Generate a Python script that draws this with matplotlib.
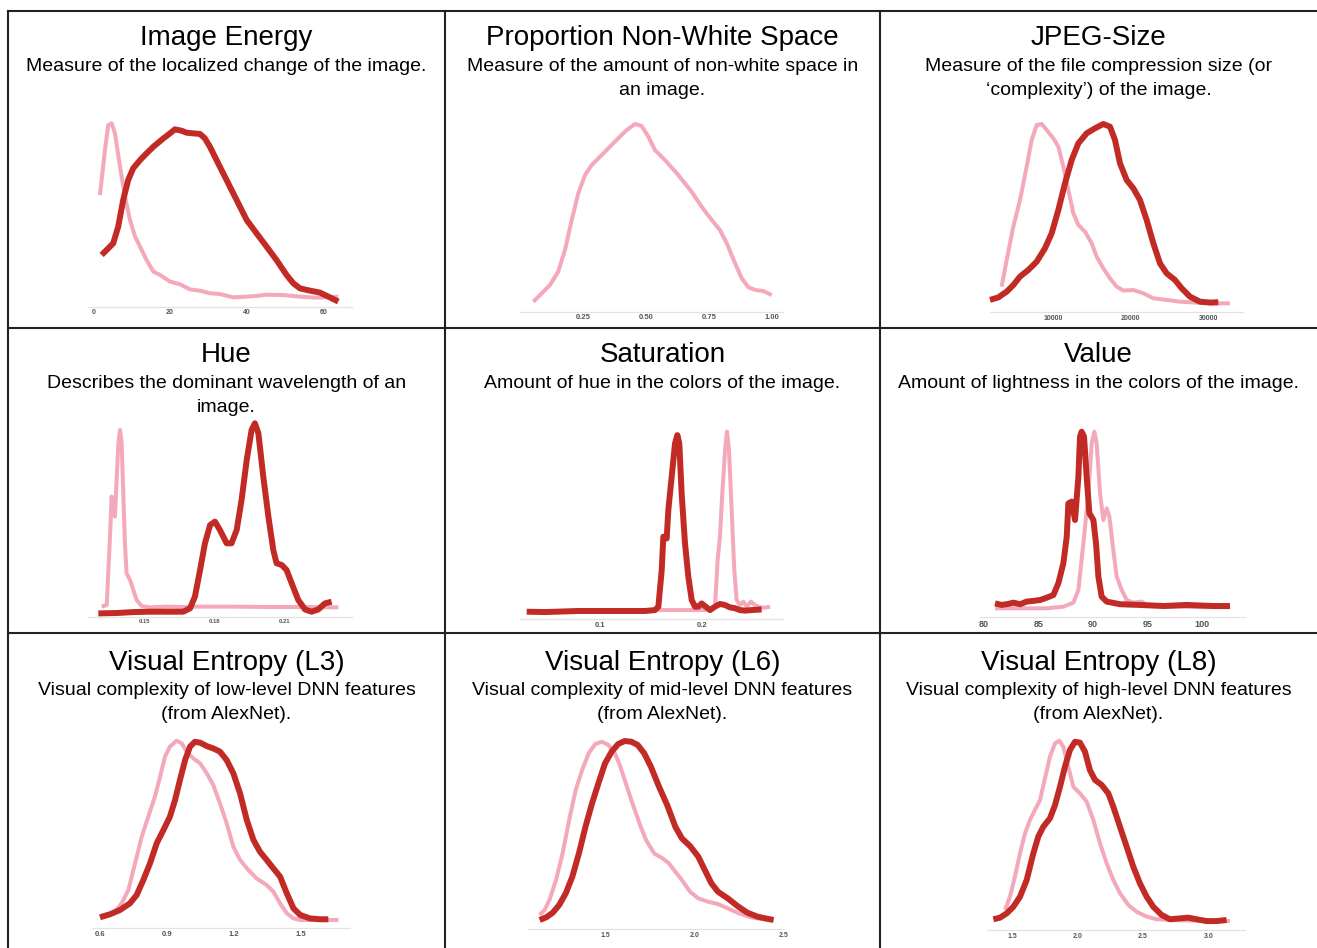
import matplotlib
matplotlib.use("Agg")
import matplotlib.pyplot as plt
from matplotlib.lines import Line2D

plt.rcParams['font.family'] = ['Liberation Sans', 'DejaVu Sans']

W, H = 1317, 948
LIGHT = '#f4a9bb'
DARK = '#c22a26'

# ---------------- data (density curves, relative height, peak = 1) ----------------
titles = ["Image Energy", "Proportion Non-White Space", "JPEG-Size",
          "Hue", "Saturation", "Value",
          "Visual Entropy (L3)", "Visual Entropy (L6)", "Visual Entropy (L8)"]
subtitles = ["Measure of the localized change of the image.",
             "Measure of the amount of non-white space in\nan image.",
             "Measure of the file compression size (or\n\u2018complexity\u2019) of the image.",
             "Describes the dominant wavelength of an\nimage.",
             "Amount of hue in the colors of the image.",
             "Amount of lightness in the colors of the image.",
             "Visual complexity of low-level DNN features\n(from AlexNet).",
             "Visual complexity of mid-level DNN features\n(from AlexNet).",
             "Visual complexity of high-level DNN features\n(from AlexNet)."]

# Image Energy
energy_light_x = [1.74, 3.04, 3.9, 4.8, 5.65, 6.96, 8.26, 9.57, 10.9, 12.2, 13.9, 15.7, 17.4, 20, 22.6, 25.2,
                  27.8, 30.4, 33, 36.5, 40, 42.6, 45.2, 49.6, 53.9, 58.3, 63.9]
energy_light_y = [0.594, 0.849, 0.99, 1.0, 0.943, 0.755, 0.585, 0.453, 0.358, 0.302, 0.226, 0.160, 0.142, 0.104,
                  0.089, 0.060, 0.053, 0.038, 0.034, 0.015, 0.019, 0.023, 0.030, 0.028, 0.019, 0.013, 0.019]
energy_dark_x = [2.17, 3.48, 5.2, 6.5, 7.8, 9.1, 10.4, 12.2, 13.9, 15.7, 18.3, 20, 21.3, 23.0, 24.3, 26.1, 27.8,
                 29.1, 30.4, 33.0, 36.5, 40, 42.6, 45.2, 47.8, 50.4, 52.2, 53.9, 56.5, 59.1, 61.7, 63.9]
energy_dark_y = [0.255, 0.283, 0.321, 0.415, 0.566, 0.679, 0.745, 0.792, 0.830, 0.868, 0.915, 0.943, 0.966, 0.958,
                 0.947, 0.943, 0.940, 0.915, 0.868, 0.755, 0.604, 0.453, 0.377, 0.302, 0.226, 0.142, 0.094, 0.066,
                 0.053, 0.042, 0.015, -0.009]

# Proportion Non-White Space
nonwhite_x = [0.051, 0.084, 0.117, 0.150, 0.177, 0.204, 0.230, 0.257, 0.283, 0.310, 0.350, 0.389, 0.423, 0.456,
              0.482, 0.509, 0.535, 0.575, 0.628, 0.681, 0.721, 0.761, 0.794, 0.821, 0.854, 0.881, 0.907, 0.934,
              0.967, 1.000]
nonwhite_y = [0.018, 0.064, 0.110, 0.184, 0.304, 0.470, 0.617, 0.718, 0.773, 0.810, 0.866, 0.921, 0.967, 1.0,
              0.989, 0.930, 0.856, 0.801, 0.718, 0.626, 0.543, 0.470, 0.414, 0.341, 0.230, 0.147, 0.098, 0.083,
              0.077, 0.055]

# JPEG-Size
jpeg_light_x = [3333, 3979, 4839, 5699, 6559, 7204, 7849, 8495, 9140, 10000, 10645, 11290, 11935, 12581, 13226,
                14086, 14946, 15591, 16452, 17312, 18172, 19032, 20323, 21613, 22903, 24623, 26344, 28494, 30645,
                32795]
jpeg_light_y = [0.093, 0.242, 0.428, 0.576, 0.762, 0.911, 0.994, 1.0, 0.967, 0.920, 0.874, 0.762, 0.632, 0.502,
                0.437, 0.400, 0.335, 0.260, 0.195, 0.139, 0.093, 0.071, 0.074, 0.056, 0.028, 0.019, 0.009, 0.004,
                0.0, 0.0]
jpeg_dark_x = [1828, 2903, 3979, 4839, 5699, 6774, 7849, 8925, 9785, 10645, 11505, 12366, 13226, 14301, 15376,
               16452, 17312, 17957, 18602, 19462, 20323, 21183, 22043, 22903, 23763, 24624, 25699, 26559, 27634,
               28925, 30215, 31290]
jpeg_dark_y = [0.019, 0.033, 0.065, 0.102, 0.149, 0.186, 0.232, 0.307, 0.390, 0.520, 0.669, 0.799, 0.892, 0.948,
               0.976, 1.0, 0.985, 0.911, 0.781, 0.688, 0.641, 0.576, 0.465, 0.335, 0.223, 0.167, 0.130, 0.084,
               0.037, 0.009, 0.004, 0.006]

# Hue
hue_light_x = [0.1314, 0.1336, 0.1350, 0.1357, 0.1364, 0.1371, 0.1379, 0.1386, 0.1393, 0.1400, 0.1407, 0.1414,
               0.1421, 0.1436, 0.1450, 0.1464, 0.1486, 0.1521, 0.1593, 0.1664, 0.1736, 0.1879, 0.2021, 0.2164,
               0.2329]
hue_light_y = [0.027, 0.035, 0.398, 0.611, 0.540, 0.504, 0.717, 0.894, 0.965, 0.894, 0.628, 0.363, 0.204, 0.168,
               0.115, 0.062, 0.030, 0.023, 0.027, 0.025, 0.027, 0.027, 0.025, 0.025, 0.023]
hue_dark_x = [0.1300, 0.1379, 0.1450, 0.1521, 0.1593, 0.1664, 0.1693, 0.1714, 0.1736, 0.1757, 0.1779, 0.1800,
              0.1821, 0.1850, 0.1871, 0.1893, 0.1914, 0.1936, 0.1957, 0.1971, 0.1986, 0.2007, 0.2029, 0.2050,
              0.2064, 0.2086, 0.2107, 0.2129, 0.2157, 0.2186, 0.2214, 0.2243, 0.2271, 0.2300]
hue_dark_y = [-0.009, -0.007, -0.002, 0.0, 0.0, 0.0, 0.018, 0.080, 0.221, 0.363, 0.460, 0.478, 0.434, 0.363,
              0.363, 0.434, 0.593, 0.805, 0.965, 1.0, 0.947, 0.717, 0.504, 0.327, 0.257, 0.248, 0.221, 0.150,
              0.062, 0.012, 0.0, 0.012, 0.044, 0.053]

# Saturation
sat_dark_x = [0.0279, 0.0459, 0.0787, 0.1115, 0.1443, 0.1541, 0.1574, 0.1607, 0.1623, 0.1656, 0.1672, 0.1705,
              0.1738, 0.1761, 0.1780, 0.1803, 0.1836, 0.1869, 0.1902, 0.1934, 0.1967, 0.2000, 0.2033, 0.2082,
              0.2131, 0.2180, 0.2230, 0.2279, 0.2328, 0.2377, 0.2426, 0.2492, 0.2590]
sat_dark_y = [0.0, -0.002, 0.004, 0.004, 0.004, 0.009, 0.028, 0.231, 0.417, 0.407, 0.565, 0.750, 0.935, 0.981,
              0.935, 0.657, 0.380, 0.194, 0.065, 0.028, 0.028, 0.046, 0.031, 0.009, 0.028, 0.043, 0.037, 0.024,
              0.019, 0.009, 0.006, 0.009, 0.013]
sat_light_x = [0.1574, 0.1770, 0.1967, 0.2098, 0.2131, 0.2157, 0.2180, 0.2203, 0.2230, 0.2249, 0.2269, 0.2295,
               0.2321, 0.2344, 0.2377, 0.2410, 0.2443, 0.2485, 0.2525, 0.2574, 0.2623, 0.2672]
sat_light_y = [0.009, 0.009, 0.009, 0.013, 0.028, 0.287, 0.417, 0.657, 0.898, 1.0, 0.898, 0.565, 0.231, 0.065,
               0.037, 0.056, 0.028, 0.056, 0.037, 0.024, 0.022, 0.028]

# Value
val_dark_x = [81.01, 81.62, 82.24, 82.70, 83.31, 83.92, 84.53, 85.15, 85.76, 86.37, 86.83, 87.29, 87.60, 87.75,
              88.06, 88.36, 88.67, 88.82, 88.97, 89.19, 89.43, 89.68, 90.05, 90.29, 90.51, 90.81, 91.27, 92.50,
              94.33, 96.48, 98.62, 101.07, 102.60]
val_dark_y = [0.028, 0.019, 0.025, 0.032, 0.023, 0.038, 0.042, 0.047, 0.060, 0.075, 0.142, 0.255, 0.406, 0.594,
              0.604, 0.500, 0.745, 0.972, 1.0, 0.972, 0.745, 0.538, 0.500, 0.368, 0.179, 0.066, 0.038, 0.023,
              0.019, 0.013, 0.019, 0.013, 0.013]
val_light_x = [81.01, 82.70, 84.23, 85.76, 87.29, 88.21, 88.67, 89.13, 89.59, 89.89, 90.14, 90.35, 90.66, 90.96,
               91.27, 91.52, 91.88, 92.19, 92.65, 93.11, 93.72, 94.49, 94.95, 96.48, 98.01, 101.07, 102.60]
val_light_y = [0.0, 0.0, 0.0, 0.0, 0.009, 0.032, 0.104, 0.368, 0.651, 0.934, 1.0, 0.934, 0.651, 0.500, 0.566,
               0.519, 0.330, 0.179, 0.104, 0.047, 0.032, 0.038, 0.019, 0.009, 0.009, 0.006, 0.006]

# Visual Entropy (L3)
l3_light_x = [0.660, 0.697, 0.727, 0.757, 0.787, 0.816, 0.846, 0.869, 0.891, 0.913, 0.943, 0.966, 0.988, 1.018,
              1.048, 1.078, 1.107, 1.137, 1.167, 1.197, 1.227, 1.264, 1.301, 1.346, 1.376, 1.406, 1.436, 1.466,
              1.496, 1.570, 1.667]
l3_light_y = [0.037, 0.093, 0.167, 0.316, 0.465, 0.576, 0.688, 0.799, 0.911, 0.967, 1.0, 0.985, 0.939, 0.901,
              0.874, 0.818, 0.753, 0.651, 0.539, 0.409, 0.335, 0.279, 0.232, 0.195, 0.158, 0.093, 0.037, 0.009,
              0.0, 0.0, 0.0]
l3_dark_x = [0.600, 0.645, 0.690, 0.734, 0.764, 0.794, 0.824, 0.854, 0.884, 0.913, 0.936, 0.958, 0.981, 1.003,
             1.025, 1.048, 1.078, 1.107, 1.137, 1.167, 1.197, 1.227, 1.257, 1.287, 1.316, 1.346, 1.376, 1.406,
             1.436, 1.466, 1.496, 1.540, 1.585, 1.622]
l3_dark_y = [0.015, 0.032, 0.056, 0.093, 0.139, 0.223, 0.316, 0.428, 0.502, 0.576, 0.669, 0.781, 0.892, 0.967,
             0.994, 0.989, 0.970, 0.957, 0.939, 0.892, 0.818, 0.706, 0.558, 0.446, 0.381, 0.335, 0.288, 0.242,
             0.149, 0.065, 0.028, 0.009, 0.004, 0.004]

# Visual Entropy (L6)
l6_light_x = [1.128, 1.156, 1.183, 1.220, 1.257, 1.294, 1.331, 1.367, 1.404, 1.441, 1.478, 1.515, 1.552, 1.579,
              1.607, 1.644, 1.690, 1.727, 1.773, 1.819, 1.855, 1.892, 1.929, 1.975, 2.021, 2.076, 2.132, 2.187,
              2.251, 2.316, 2.389, 2.445]
l6_light_y = [0.028, 0.056, 0.112, 0.223, 0.372, 0.559, 0.726, 0.838, 0.931, 0.983, 0.996, 0.978, 0.931, 0.866,
              0.782, 0.670, 0.540, 0.447, 0.372, 0.345, 0.317, 0.270, 0.223, 0.158, 0.121, 0.102, 0.089, 0.065,
              0.037, 0.015, 0.004, 0.0]
l6_dark_x = [1.128, 1.165, 1.202, 1.238, 1.275, 1.312, 1.349, 1.386, 1.423, 1.459, 1.496, 1.533, 1.570, 1.607,
             1.644, 1.680, 1.717, 1.754, 1.800, 1.846, 1.892, 1.929, 1.975, 2.021, 2.058, 2.095, 2.132, 2.187,
             2.242, 2.297, 2.353, 2.399, 2.445]
l6_dark_y = [0.0, 0.015, 0.041, 0.084, 0.149, 0.242, 0.372, 0.521, 0.652, 0.764, 0.875, 0.940, 0.983, 1.0, 0.996,
             0.978, 0.931, 0.857, 0.745, 0.642, 0.521, 0.456, 0.413, 0.354, 0.279, 0.205, 0.158, 0.121, 0.078,
             0.041, 0.019, 0.009, 0.0]

# Visual Entropy (L8)
l8_light_x = [1.444, 1.482, 1.520, 1.559, 1.597, 1.635, 1.673, 1.712, 1.750, 1.788, 1.827, 1.860, 1.890, 1.929,
              1.967, 2.018, 2.069, 2.120, 2.171, 2.222, 2.273, 2.324, 2.388, 2.452, 2.528, 2.605, 2.707, 2.911,
              3.166]
l8_light_y = [0.056, 0.130, 0.242, 0.372, 0.483, 0.558, 0.613, 0.669, 0.790, 0.911, 0.985, 1.0, 0.967, 0.855,
              0.743, 0.706, 0.660, 0.558, 0.428, 0.316, 0.223, 0.149, 0.084, 0.046, 0.019, 0.004, 0.0, -0.004,
              -0.006]
l8_dark_x = [1.355, 1.406, 1.457, 1.508, 1.559, 1.610, 1.661, 1.699, 1.737, 1.788, 1.827, 1.865, 1.903, 1.941,
             1.980, 2.018, 2.056, 2.094, 2.133, 2.184, 2.235, 2.273, 2.324, 2.375, 2.426, 2.477, 2.528, 2.579,
             2.643, 2.707, 2.783, 2.847, 2.911, 2.987, 3.064, 3.140]
l8_dark_y = [0.004, 0.013, 0.037, 0.074, 0.130, 0.223, 0.372, 0.465, 0.520, 0.567, 0.641, 0.743, 0.855, 0.948,
             0.994, 0.989, 0.939, 0.836, 0.781, 0.753, 0.706, 0.632, 0.520, 0.409, 0.297, 0.204, 0.130, 0.074,
             0.028, 0.004, 0.009, 0.013, 0.004, -0.006, -0.006, 0.0]

# tick values / labels
ticks = [[0, 20, 40, 60], [0.25, 0.50, 0.75, 1.00], [10000, 20000, 30000],
         [0.15, 0.18, 0.21], [0.1, 0.2], [80, 85, 90, 95, 100],
         [0.6, 0.9, 1.2, 1.5], [1.5, 2.0, 2.5], [1.5, 2.0, 2.5, 3.0]]
tick_labels = [["0", "20", "40", "60"], ["0.25", "0.50", "0.75", "1.00"], ["10000", "20000", "30000"],
               ["0.15", "0.18", "0.21"], ["0.1", "0.2"], ["80", "85", "90", "95", "100"],
               ["0.6", "0.9", "1.2", "1.5"], ["1.5", "2.0", "2.5"], ["1.5", "2.0", "2.5", "3.0"]]

series = [
    [(energy_light_x, energy_light_y, 'light'), (energy_dark_x, energy_dark_y, 'dark')],
    [(nonwhite_x, nonwhite_y, 'light')],
    [(jpeg_light_x, jpeg_light_y, 'light'), (jpeg_dark_x, jpeg_dark_y, 'dark')],
    [(hue_light_x, hue_light_y, 'light'), (hue_dark_x, hue_dark_y, 'dark')],
    [(sat_light_x, sat_light_y, 'light'), (sat_dark_x, sat_dark_y, 'dark')],
    [(val_light_x, val_light_y, 'light'), (val_dark_x, val_dark_y, 'dark')],
    [(l3_light_x, l3_light_y, 'light'), (l3_dark_x, l3_dark_y, 'dark')],
    [(l6_light_x, l6_light_y, 'light'), (l6_dark_x, l6_dark_y, 'dark')],
    [(l8_light_x, l8_light_y, 'light'), (l8_dark_x, l8_dark_y, 'dark')],
]

# ---------------- layout (pixels) ----------------
# (xmin, xmax, axis left px, axis right px, axis-line y px, zero-density y px, peak y px, tick fontsize)
layout = [
    (-1.3, 67.4, 88.3, 351.7, 306.7, 300.0, 123.3, 5.0),
    (-0.002, 1.046, 520.0, 783.3, 311.7, 305.0, 124.0, 5.5),
    (1828, 34516, 990.0, 1243.3, 312.3, 303.3, 124.0, 5.0),
    (0.1257, 0.2386, 88.3, 351.7, 616.7, 611.7, 423.3, 4.2),
    (0.0213, 0.2803, 520.0, 783.3, 619.3, 611.7, 431.7, 5.5),
    (79.63, 103.98, 980.0, 1245.0, 617.3, 608.3, 431.7, 6.5),
    (0.563, 1.719, 91.7, 350.0, 928.3, 920.0, 740.7, 5.5),
    (1.064, 2.472, 528.3, 783.3, 929.3, 920.0, 741.0, 5.0),
    (1.304, 3.281, 986.7, 1245.0, 930.0, 920.0, 740.7, 5.0),
]

col_centers = [226.5, 662.5, 1098.5]
row_tops = [11, 328, 633]
title_off = [34, 34, 37]
sub_off = [60, 60, 62]

fig = plt.figure(figsize=(W / 100, H / 100), dpi=100)
fig.patch.set_facecolor('white')

for i in range(9):
    xmin, xmax, pl, pr, pax, p0, p1, tfs = layout[i]
    top_px = p1 - 12
    ax = fig.add_axes([pl / W, 1 - pax / H, (pr - pl) / W, (pax - top_px) / H])
    v = lambda p: (p0 - p) / (p0 - p1)
    ax.set_ylim(v(pax), v(top_px))
    ax.set_xlim(xmin, xmax)
    for xs, ys, kind in series[i]:
        if kind == 'light':
            ax.plot(xs, ys, color=LIGHT, lw=2.9, solid_capstyle='butt', solid_joinstyle='round', clip_on=False, zorder=2)
        else:
            ax.plot(xs, ys, color=DARK, lw=4.3, solid_capstyle='butt', solid_joinstyle='round', clip_on=False, zorder=3)
    for s in ['top', 'right', 'left']:
        ax.spines[s].set_visible(False)
    ax.spines['bottom'].set_color('#e3e3e3')
    ax.spines['bottom'].set_linewidth(0.9)
    ax.set_yticks([])
    ax.set_xticks(ticks[i])
    ax.set_xticklabels(tick_labels[i], fontsize=tfs, fontweight='bold', color='#555555')
    ax.tick_params(axis='x', length=0, pad=2)
    ax.patch.set_alpha(0)

    r, c = divmod(i, 3)
    cx = col_centers[c] / W
    fig.text(cx, 1 - (row_tops[r] + title_off[r]) / H, titles[i], ha='center', va='baseline',
             fontsize=20, color='black')
    for k, line in enumerate(subtitles[i].split('\n')):
        fig.text(cx, 1 - (row_tops[r] + sub_off[r] + 24 * k) / H, line, ha='center', va='baseline',
                 fontsize=14, color='black')

# grid frame
def hline(y, x0, x1):
    fig.add_artist(Line2D([x0 / W, x1 / W], [1 - y / H, 1 - y / H], color='#222222', lw=1.5))

def vline(x, y0, y1):
    fig.add_artist(Line2D([x / W, x / W], [1 - y0 / H, 1 - y1 / H], color='#222222', lw=1.5))

hline(11, 8, W)
hline(328, 8, W)
hline(633, 8, W)
vline(8, 11, H)
vline(445, 11, H)
vline(880, 11, H)

fig.savefig('out.png', dpi=100, facecolor='white')
